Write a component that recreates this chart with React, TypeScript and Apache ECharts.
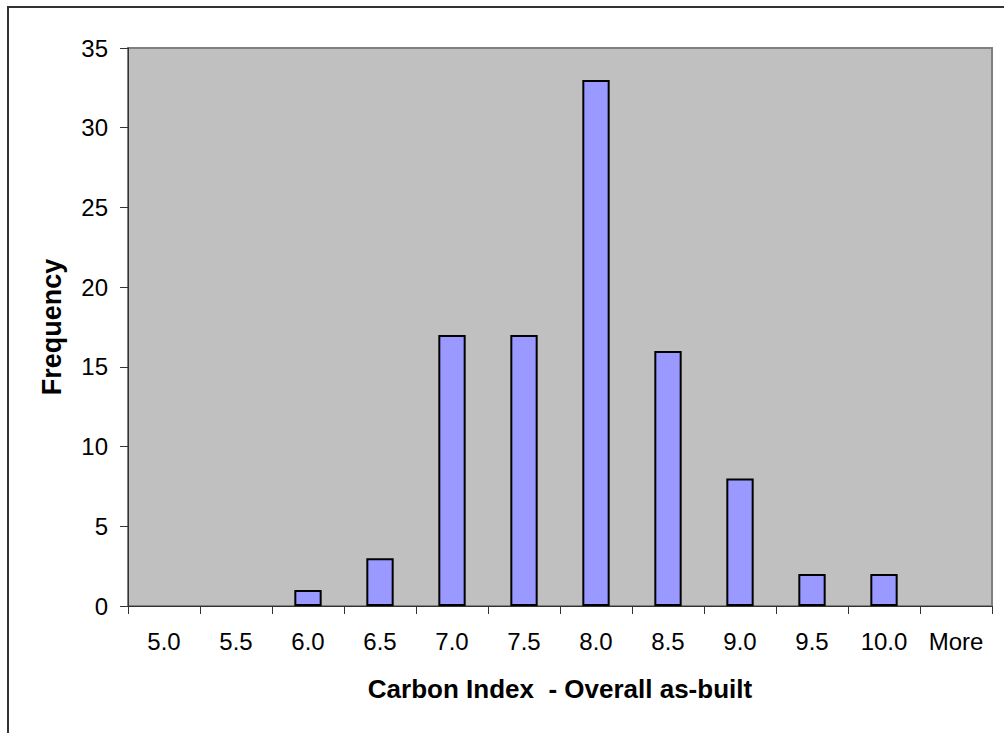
import React, { useEffect, useRef } from "react";
import * as echarts from "echarts";

const categories = ["5.0", "5.5", "6.0", "6.5", "7.0", "7.5", "8.0", "8.5", "9.0", "9.5", "10.0", "More"];
const frequency = [0, 0, 1, 3, 17, 17, 33, 16, 8, 2, 2, 0];
const yTicks = { min: 0, max: 35, interval: 5 };

export default function App() {
  const ref = useRef<HTMLDivElement>(null);
  useEffect(() => {
    if (!ref.current) return;
    const chart = echarts.init(ref.current, null, { renderer: "svg" });
    const font = "'Liberation Sans', Arial, sans-serif";
    chart.setOption({
      animation: false,
      backgroundColor: "#ffffff",
      textStyle: { fontFamily: font },
      graphic: [
        {
          type: "rect",
          shape: { x: 8, y: 7, width: 1200, height: 900 },
          style: { fill: "none", stroke: "#333333", lineWidth: 2 },
          silent: true,
        },
      ],
      grid: {
        left: 128,
        top: 48,
        width: 864,
        height: 558,
        show: true,
        backgroundColor: "#C0C0C0",
        borderColor: "#808080",
        borderWidth: 2,
      },
      xAxis: {
        type: "category",
        data: categories,
        boundaryGap: true,
        name: "Carbon Index  - Overall as-built",
        nameLocation: "middle",
        nameGap: 70,
        nameTextStyle: { fontFamily: font, fontSize: 26, fontWeight: "bold", color: "#000" },
        axisLine: { show: true, lineStyle: { color: "#333", width: 1 } },
        axisTick: { show: true, interval: 0, alignWithLabel: false, length: 8, lineStyle: { color: "#333" } },
        axisLabel: { interval: 0, margin: 23, fontFamily: font, fontSize: 24, color: "#000" },
        splitLine: { show: false },
      },
      yAxis: {
        type: "value",
        min: yTicks.min,
        max: yTicks.max,
        interval: yTicks.interval,
        name: "Frequency",
        nameLocation: "middle",
        nameGap: 63,
        nameTextStyle: { fontFamily: font, fontSize: 27, fontWeight: "bold", color: "#000" },
        axisLine: { show: true, lineStyle: { color: "#333", width: 1 } },
        axisTick: { show: true, length: 8, lineStyle: { color: "#333" } },
        axisLabel: { margin: 20, fontFamily: font, fontSize: 24, color: "#000" },
        splitLine: { show: false },
      },
      series: [
        {
          type: "bar",
          data: frequency.map((v) =>
            v === 0 ? { value: v, itemStyle: { borderWidth: 0, opacity: 0 } } : v
          ),
          barWidth: "38%",
          itemStyle: { color: "#9999FF", borderColor: "#000", borderWidth: 2 },
        },
      ],
    });
    return () => chart.dispose();
  }, []);
  return <div ref={ref} style={{ position: "absolute", left: 0, top: 0, width: 1004, height: 733 }} />;
}
